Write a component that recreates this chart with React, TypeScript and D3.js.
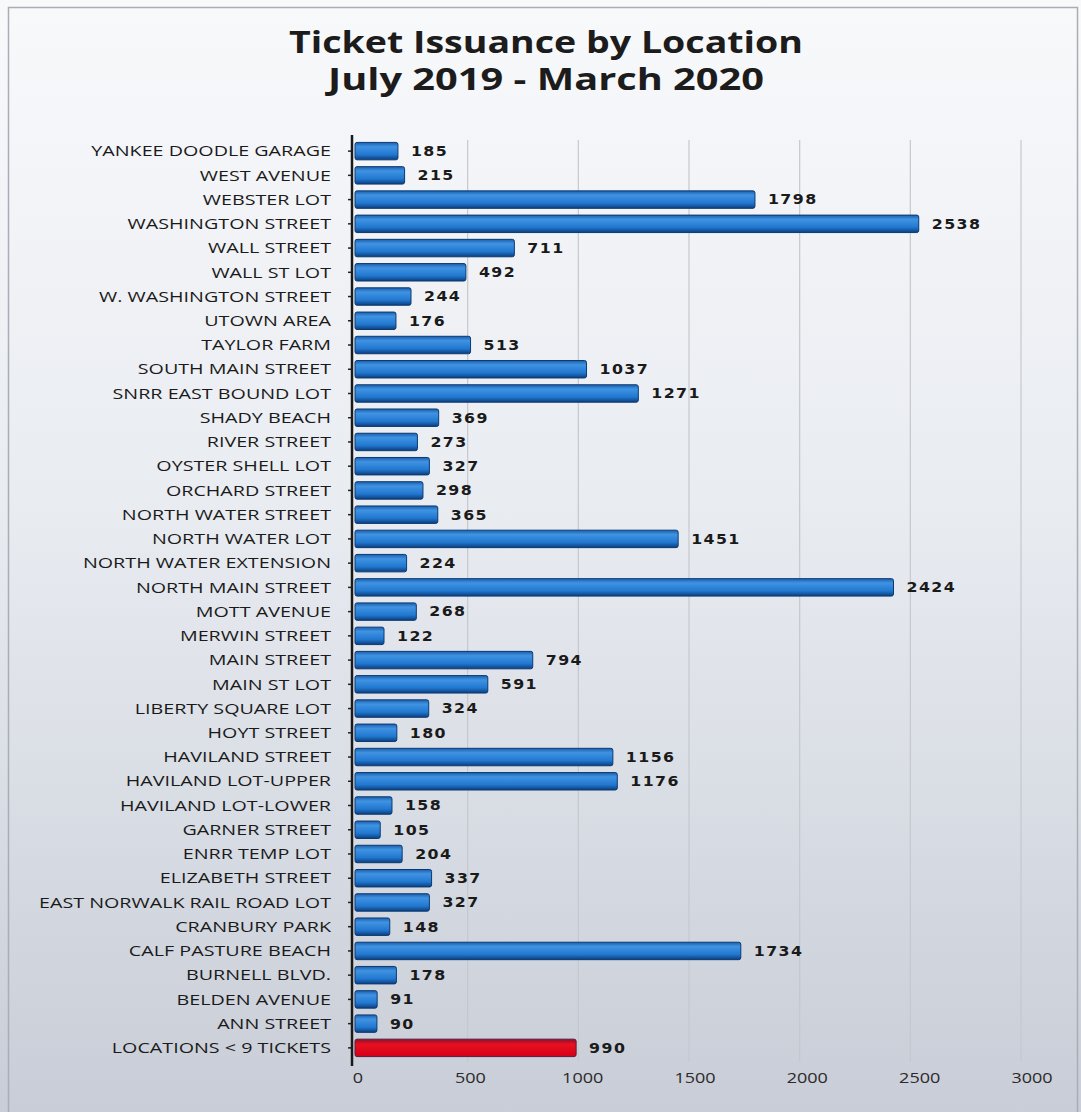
import React, { useRef, useEffect } from "react";
import * as d3 from "d3";

// locations, top to bottom as in the chart
const locations = [
    "YANKEE DOODLE GARAGE",
    "WEST AVENUE",
    "WEBSTER LOT",
    "WASHINGTON STREET",
    "WALL STREET",
    "WALL ST LOT",
    "W. WASHINGTON STREET",
    "UTOWN AREA",
    "TAYLOR FARM",
    "SOUTH MAIN STREET",
    "SNRR EAST BOUND LOT",
    "SHADY BEACH",
    "RIVER STREET",
    "OYSTER SHELL LOT",
    "ORCHARD STREET",
    "NORTH WATER STREET",
    "NORTH WATER LOT",
    "NORTH WATER EXTENSION",
    "NORTH MAIN STREET",
    "MOTT AVENUE",
    "MERWIN STREET",
    "MAIN STREET",
    "MAIN ST LOT",
    "LIBERTY SQUARE LOT",
    "HOYT STREET",
    "HAVILAND STREET",
    "HAVILAND LOT-UPPER",
    "HAVILAND LOT-LOWER",
    "GARNER STREET",
    "ENRR TEMP LOT",
    "ELIZABETH STREET",
    "EAST NORWALK RAIL ROAD LOT",
    "CRANBURY PARK",
    "CALF PASTURE BEACH",
    "BURNELL BLVD.",
    "BELDEN AVENUE",
    "ANN STREET",
    "LOCATIONS < 9 TICKETS",
];

const tickets = [
    185, 215, 1798, 2538, 711, 492, 244, 176, 513, 1037, 1271, 369, 273, 327, 298, 365, 1451, 224, 2424, 268, 122, 794,
    591, 324, 180, 1156, 1176, 158, 105, 204, 337, 327, 148, 1734, 178, 91, 90, 990,
];

const xTicks = [0, 500, 1000, 1500, 2000, 2500, 3000];

const titleLines = ["Ticket Issuance by Location", "July 2019 - March 2020"];

const App: React.FC = () => {
    const svgRef = useRef<SVGSVGElement | null>(null);

    useEffect(() => {
        const width = 1081;
        const height = 1112;
        const svg = d3.select(svgRef.current).attr("width", width).attr("height", height);
        svg.selectAll("*").remove();

        const defs = svg.append("defs");
        const bg = defs.append("linearGradient").attr("id", "bg").attr("x1", 0).attr("y1", 0).attr("x2", 0).attr("y2", 1);
        bg.append("stop").attr("offset", "0%").attr("stop-color", "#f8f9fb");
        bg.append("stop").attr("offset", "45%").attr("stop-color", "#e9ecf1");
        bg.append("stop").attr("offset", "100%").attr("stop-color", "#c8cdd7");

        const blue = defs.append("linearGradient").attr("id", "blue").attr("x1", 0).attr("y1", 0).attr("x2", 0).attr("y2", 1);
        blue.append("stop").attr("offset", "0%").attr("stop-color", "#1a5fae");
        blue.append("stop").attr("offset", "25%").attr("stop-color", "#4093e2");
        blue.append("stop").attr("offset", "70%").attr("stop-color", "#2178d0");
        blue.append("stop").attr("offset", "100%").attr("stop-color", "#0c3d7c");

        const red = defs.append("linearGradient").attr("id", "red").attr("x1", 0).attr("y1", 0).attr("x2", 0).attr("y2", 1);
        red.append("stop").attr("offset", "0%").attr("stop-color", "#8a1030");
        red.append("stop").attr("offset", "30%").attr("stop-color", "#e8101e");
        red.append("stop").attr("offset", "100%").attr("stop-color", "#d4001a");

        // background + frame
        svg.append("rect").attr("width", width).attr("height", height).attr("fill", "url(#bg)");
        svg.append("rect")
            .attr("x", 8.5)
            .attr("y", 7.5)
            .attr("width", width - 12)
            .attr("height", height)
            .attr("fill", "none")
            .attr("stroke", "#a9adb5")
            .attr("stroke-width", 1.5);

        // title (the photo is stretched sideways, so the text is too)
        const titleWidths = [514, 436];
        svg.append("g")
            .selectAll("text")
            .data(titleLines)
            .enter()
            .append("text")
            .attr("x", 546)
            .attr("y", (d, i) => 53 + i * 37)
            .attr("text-anchor", "middle")
            .attr("font-family", "'Open Sans', sans-serif")
            .attr("font-weight", "bold")
            .attr("font-size", 30)
            .attr("textLength", (d, i) => titleWidths[i])
            .attr("lengthAdjust", "spacingAndGlyphs")
            .attr("fill", "#1c1c1c")
            .text((d) => d);

        const xScale = d3.scaleLinear().domain([0, 3000]).range([357, 1021]);
        // tick labels in the picture sit a touch to the right of the gridlines
        const xLabelScale = d3.scaleLinear().domain([0, 3000]).range([358, 1032]);
        const yScale = d3.scaleBand().domain(locations).range([139, 1060]).paddingInner(0.28).paddingOuter(0.14);

        // gridlines
        svg.append("g")
            .selectAll("line")
            .data(xTicks.filter((t) => t > 0))
            .enter()
            .append("line")
            .attr("x1", (d) => xScale(d))
            .attr("x2", (d) => xScale(d))
            .attr("y1", 140)
            .attr("y2", 1062)
            .attr("stroke", "#c6c8cd")
            .attr("stroke-width", 1.2);

        const data = locations.map((loc, i) => ({ loc, value: tickets[i] }));
        const last = locations[locations.length - 1];

        // bars
        svg.append("g")
            .selectAll("rect")
            .data(data)
            .enter()
            .append("rect")
            .attr("x", xScale(0) - 2)
            .attr("y", (d) => yScale(d.loc)!)
            .attr("width", (d) => xScale(d.value) - xScale(0) + 2)
            .attr("height", yScale.bandwidth())
            .attr("rx", 2)
            .attr("fill", (d) => (d.loc === last ? "url(#red)" : "url(#blue)"))
            .attr("stroke", (d) => (d.loc === last ? "#5a1a3a" : "#0b3a73"))
            .attr("stroke-width", 1);

        // value labels
        svg.append("g")
            .selectAll("text")
            .data(data)
            .enter()
            .append("text")
            .attr(
                "transform",
                (d) => `translate(${xScale(d.value) + 13},${yScale(d.loc)! + yScale.bandwidth() / 2}) scale(1.17,1)`
            )
            .attr("dy", "0.36em")
            .attr("font-family", "'DejaVu Sans', sans-serif")
            .attr("font-weight", "bold")
            .attr("font-size", 13.5)
            .attr("letter-spacing", 1.2)
            .attr("fill", "#1a1a1a")
            .text((d) => d.value);

        // category labels
        svg.append("g")
            .selectAll("text")
            .data(locations)
            .enter()
            .append("text")
            .attr("transform", (d) => `translate(331,${yScale(d)! + yScale.bandwidth() / 2}) scale(1.36,1)`)
            .attr("dy", "0.36em")
            .attr("text-anchor", "end")
            .attr("font-family", "'Open Sans', sans-serif")
            .attr("font-size", 14.5)
            .attr("fill", "#1a1a1a")
            .text((d) => d);

        // y axis line with small ticks
        const yAxis = d3.axisLeft(yScale).tickSize(4).tickFormat(() => "");
        const yg = svg.append("g").attr("transform", `translate(352, 0)`).call(yAxis);
        yg.select(".domain").remove();
        yg.selectAll(".tick line").attr("stroke", "#222").attr("stroke-width", 1.5);
        svg.append("line")
            .attr("x1", 352)
            .attr("x2", 352)
            .attr("y1", 135)
            .attr("y2", 1066)
            .attr("stroke", "#1a1a1a")
            .attr("stroke-width", 2.5);

        // x axis labels
        const xAxis = d3.axisBottom(xLabelScale).tickValues(xTicks).tickSize(0).tickPadding(0).tickFormat(d3.format("d"));
        const xg = svg.append("g").attr("transform", `translate(0, 1072)`).call(xAxis);
        xg.select(".domain").remove();
        xg.selectAll(".tick text")
            .attr("font-family", "'Open Sans', sans-serif")
            .attr("font-size", 15)
            .attr("transform", "scale(1.2,1)")
            .attr("fill", "#2a2a2a");
        xg.selectAll(".tick").attr("transform", (d: any) => `translate(${xLabelScale(d)},0)`);
    }, []);

    return (
        <div style={{ position: "absolute", left: 0, top: 0 }}>
            <svg ref={svgRef} style={{ display: "block" }} />
        </div>
    );
};

export default App;
